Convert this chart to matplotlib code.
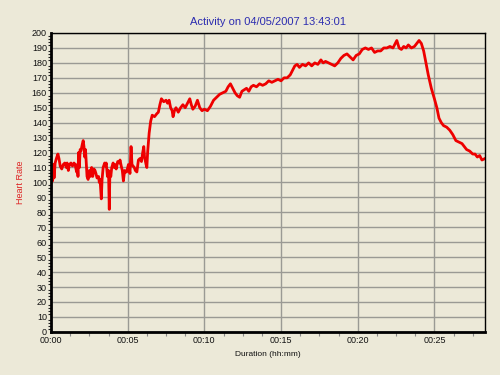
import matplotlib
matplotlib.use("Agg")
import matplotlib.pyplot as plt
from matplotlib.ticker import MultipleLocator, FuncFormatter

# duration in minutes, heart rate in bpm
minutes = [
    0.0, 0.05, 0.1, 0.15, 0.2, 0.27, 0.35, 0.45, 0.52, 0.6, 0.7, 0.8, 0.9, 1.0,
    1.05, 1.13, 1.2, 1.3, 1.4, 1.5, 1.57, 1.67, 1.72, 1.76, 1.8, 1.85, 1.9, 1.95,
    2.05, 2.1, 2.15, 2.2, 2.25, 2.3, 2.35, 2.42, 2.5, 2.57, 2.65, 2.72, 2.8, 2.87,
    2.93, 3.0, 3.1, 3.15, 3.2, 3.28, 3.33, 3.4, 3.5, 3.55, 3.6, 3.68, 3.75, 3.8,
    3.84, 3.9, 3.96, 4.05, 4.12, 4.17, 4.25, 4.35, 4.45, 4.5, 4.58, 4.65, 4.72,
    4.8, 4.87, 4.93, 5.0, 5.05, 5.15, 5.22, 5.28, 5.35, 5.43, 5.5, 5.6, 5.7, 5.8,
    5.9, 5.98, 6.05, 6.1, 6.2, 6.25, 6.3, 6.4, 6.5, 6.6, 6.75, 6.9, 7.0, 7.1, 7.2,
    7.35, 7.5, 7.6, 7.7, 7.8, 7.9, 7.96, 8.05, 8.15, 8.3, 8.45, 8.6, 8.75, 8.9,
    9.05, 9.15, 9.25, 9.4, 9.55, 9.7, 9.85, 10.0, 10.2, 10.4, 10.6, 10.8, 11.0,
    11.2, 11.4, 11.55, 11.7, 11.85, 12.0, 12.15, 12.3, 12.45, 12.6, 12.75, 12.9,
    13.05, 13.2, 13.4, 13.6, 13.8, 14.0, 14.2, 14.4, 14.6, 14.8, 15.0, 15.2, 15.4,
    15.6, 15.75, 15.9, 16.05, 16.2, 16.4, 16.6, 16.8, 17.0, 17.2, 17.4, 17.6,
    17.75, 17.9, 18.1, 18.3, 18.5, 18.7, 18.9, 19.1, 19.3, 19.5, 19.7, 19.9, 20.1,
    20.3, 20.5, 20.7, 20.9, 21.1, 21.3, 21.5, 21.7, 21.9, 22.1, 22.3, 22.45, 22.55,
    22.7, 22.85, 23.0, 23.15, 23.3, 23.5, 23.7, 23.85, 24.0, 24.15, 24.3, 24.45,
    24.6, 24.8, 25.0, 25.16, 25.3, 25.45, 25.6, 25.8, 26.0, 26.2, 26.4, 26.6, 26.8,
    26.95, 27.1, 27.3, 27.5, 27.65, 27.8, 27.95, 28.1, 28.3,
]
heart_rate = [
    100, 110, 101, 112, 103, 113, 116, 119, 116, 111, 109, 112, 113, 110,
    113, 108, 112, 113, 111, 113, 112, 107, 112, 104, 120, 110, 122, 121,
    126, 128, 124, 117, 122, 113, 104, 102, 108, 104, 110, 104, 109, 108,
    106, 103, 104, 100, 102, 89, 102, 110, 113, 111, 113, 104, 108, 82,
    107, 104, 110, 113, 110, 112, 109, 114, 113, 115, 111, 108, 101,
    108, 107, 107, 110, 112, 106, 124, 112, 111, 110, 108, 107, 115, 116,
    114, 120, 124, 117, 112, 110, 120, 133, 141, 145, 144, 146, 147, 152, 156,
    154, 155, 153, 155, 150, 148, 144, 148, 150, 147, 150, 152, 150, 153,
    156, 152, 149, 151, 155, 150, 148, 149, 148, 151, 155, 157, 159,
    160, 161, 164, 166, 163, 160, 158, 157, 161, 162, 163, 161,
    164, 165, 164, 166, 165, 166, 168, 167, 168, 169, 168, 170, 170,
    172, 175, 178, 179, 177, 179, 178, 180, 178, 180, 179, 182,
    180, 181, 180, 179, 178, 180, 183, 185, 186, 184, 182, 185, 186,
    189, 190, 189, 190, 187, 188, 188, 190, 190, 191, 190, 193, 195,
    190, 189, 191, 190, 192, 190, 191, 193, 195, 193, 188, 180,
    172, 163, 156, 150, 143, 140, 138, 137, 135, 132, 128, 127, 126,
    124, 122, 121, 119, 119, 117, 118, 115, 116,
]

title = "Activity on 04/05/2007 13:43:01"
bg = "#ECE9D8"

plt.rcParams['font.family'] = ['Liberation Sans', 'DejaVu Sans']

fig = plt.figure(figsize=(5, 3.75), dpi=100, facecolor=bg)
ax = fig.add_axes([0.102, 0.115, 0.868, 0.797], facecolor=bg)

ax.plot(minutes, heart_rate, color='#EE0000', linewidth=2.0, solid_joinstyle='round')

ax.set_xlim(0, 28.3)
ax.set_ylim(0, 200)
ax.xaxis.set_major_locator(MultipleLocator(5))
ax.xaxis.set_minor_locator(MultipleLocator(1.25))
ax.yaxis.set_major_locator(MultipleLocator(10))
ax.yaxis.set_minor_locator(MultipleLocator(2))
ax.xaxis.set_major_formatter(FuncFormatter(lambda v, p: "%02d:%02d" % (int(v) // 60, int(v) % 60)))

ax.grid(True, which='major', color='#9a9a94', linewidth=1.0)
ax.set_axisbelow(True)
ax.tick_params(axis='both', which='major', length=0, labelsize=6.5, colors='#111111', pad=3)
ax.tick_params(axis='x', which='minor', length=3, width=0.8, color='#888888')
ax.tick_params(axis='y', which='minor', length=2, width=0.8, color='#222222')

for side in ['left', 'bottom']:
    ax.spines[side].set_linewidth(2)
for side in ['top', 'right']:
    ax.spines[side].set_linewidth(1)

ax.set_title(title, fontsize=8, color='#2C2CB0', pad=6)
ax.set_xlabel("Duration (hh:mm)", fontsize=6, color='#111111', labelpad=4)
ax.set_ylabel("Heart Rate", fontsize=6.5, color='#DD2222', labelpad=5)

fig.savefig("out.png", dpi=100, facecolor=bg)
